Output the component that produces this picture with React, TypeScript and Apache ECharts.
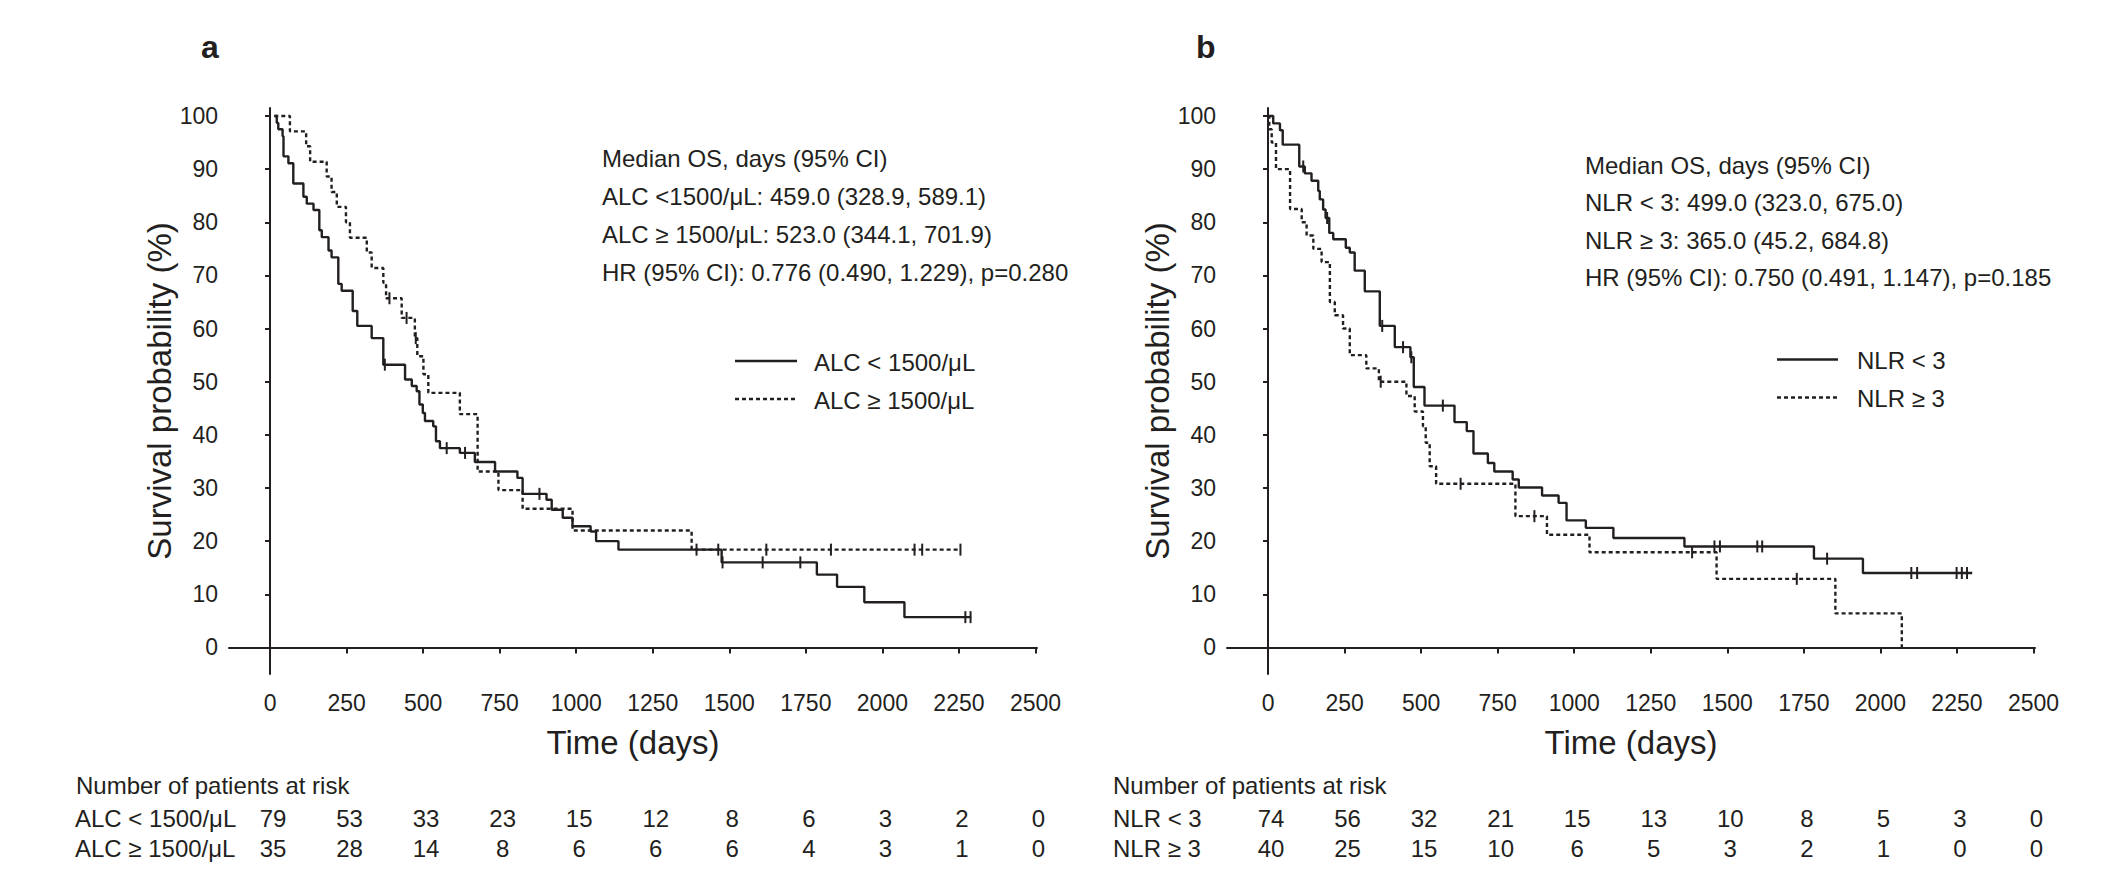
import React, { useEffect, useRef } from 'react';
import * as echarts from 'echarts';

const FONT = "'Liberation Sans', Arial, Helvetica, sans-serif";
const INK = '#231f20';

// ---------- Panel a : ALC ----------
const alcLowTime = [14, 22, 27, 41, 44, 60, 76, 109, 120, 142, 161, 169, 191, 201, 223, 234, 270, 285, 332, 370, 441, 463, 479, 488, 499, 506, 533, 542, 555, 620, 669, 735, 808, 825, 903, 920, 956, 988, 1047, 1065, 1138, 1475, 1786, 1852, 1941, 2072, 2290];
const alcLowSurv = [100, 98.7, 97.5, 96.2, 92.4, 91.1, 87.3, 84.8, 83.5, 82.3, 78.5, 77.2, 74.7, 73.4, 68.4, 67.1, 63.3, 60.5, 58.2, 53.2, 50.4, 49.2, 48.2, 45.7, 44.1, 42.6, 41.6, 38.8, 37.5, 36.6, 34.9, 33.1, 31.9, 28.9, 27.8, 25.9, 24.4, 22.8, 21.8, 20.0, 18.4, 16.0, 13.7, 11.4, 8.5, 5.7, 5.7];
const alcLowCensor = [375, 577, 637, 880, 1464, 1478, 1609, 1732, 2271, 2288];

const alcHighTime = [14, 65, 118, 131, 185, 201, 218, 248, 261, 316, 332, 370, 379, 430, 473, 481, 501, 517, 620, 678, 746, 825, 988, 1377, 2255];
const alcHighSurv = [100, 97.1, 94.3, 91.4, 88.6, 85.7, 82.9, 80.0, 77.1, 74.3, 71.4, 68.6, 65.7, 62.0, 58.2, 54.8, 51.4, 47.9, 43.9, 33.1, 29.6, 26.1, 22.0, 18.4, 18.4];
const alcHighCensor = [390, 446, 476, 1393, 1621, 1832, 2105, 2130, 2255];

// ---------- Panel b : NLR ----------
const nlrLowTime = [0, 17, 39, 48, 102, 120, 142, 164, 169, 180, 188, 200, 213, 254, 267, 283, 316, 365, 414, 465, 476, 511, 609, 649, 671, 718, 739, 799, 819, 895, 949, 975, 1038, 1128, 1360, 1783, 1943, 2300];
const nlrLowSurv = [100, 98.6, 97.3, 94.6, 90.5, 89.2, 87.8, 85.9, 84.3, 82.4, 80.8, 78.0, 76.8, 75.2, 74.3, 70.9, 67.0, 60.5, 56.5, 54.6, 49.0, 45.5, 42.4, 40.7, 36.5, 34.7, 33.1, 31.6, 30.1, 28.6, 27.2, 23.9, 22.5, 20.6, 19.0, 16.7, 14.0, 14.0];
const nlrLowCensor = [115, 193, 373, 441, 468, 571, 1458, 1476, 1598, 1614, 1826, 2101, 2120, 2249, 2266, 2283];

const nlrHighTime = [0, 4, 12, 26, 72, 110, 126, 148, 175, 202, 218, 245, 267, 321, 362, 452, 479, 506, 515, 528, 549, 808, 911, 1050, 1465, 1853, 2070];
const nlrHighSurv = [100, 97.5, 95, 90, 82.5, 80, 77.5, 75, 72.5, 65, 62.5, 60, 55, 52.5, 50, 47.3, 44.4, 41.6, 38.5, 34.1, 30.8, 24.7, 21.2, 17.9, 12.9, 6.4, 0];
const nlrHighCensor = [368, 629, 870, 1385, 1727];

// ---------- axes & risk table ----------
const xTickValues = [0, 250, 500, 750, 1000, 1250, 1500, 1750, 2000, 2250, 2500];
const yTickValues = [0, 10, 20, 30, 40, 50, 60, 70, 80, 90, 100];
const riskTimes = [0, 250, 500, 750, 1000, 1250, 1500, 1750, 2000, 2250, 2500];
const alcLowRisk = [79, 53, 33, 23, 15, 12, 8, 6, 3, 2, 0];
const alcHighRisk = [35, 28, 14, 8, 6, 6, 6, 4, 3, 1, 0];
const nlrLowRisk = [74, 56, 32, 21, 15, 13, 10, 8, 5, 3, 0];
const nlrHighRisk = [40, 25, 15, 10, 6, 5, 3, 2, 1, 0, 0];

const alcLabels = ['ALC < 1500/μL', 'ALC ≥ 1500/μL'];
const nlrLabels = ['NLR < 3', 'NLR ≥ 3'];

const annotationA = [
  'Median OS, days (95% CI)',
  'ALC <1500/μL: 459.0 (328.9, 589.1)',
  'ALC ≥ 1500/μL: 523.0 (344.1, 701.9)',
  'HR (95% CI): 0.776 (0.490, 1.229), p=0.280',
];
const annotationB = [
  'Median OS, days (95% CI)',
  'NLR < 3: 499.0 (323.0, 675.0)',
  'NLR ≥ 3: 365.0 (45.2, 684.8)',
  'HR (95% CI): 0.750 (0.491, 1.147), p=0.185',
];

// ---------- layout ----------
const X_MIN = -134;
const X_MAX = 2505;
const Y_MIN = -5;
const Y_MAX = 101.5;
const PLOT_TOP = 108;
const PLOT_H = 566;
const PLOT_W = 808;
const PANEL_LEFT = [229, 1227];
const RISK_TOP = 803;
const RISK_H = 60;

const toPoints = (t: number[], s: number[]) => t.map((x, i) => [x, s[i]]);
const survAt = (t: number[], s: number[], x: number) => {
  let v = s[0];
  for (let i = 0; i < t.length; i++) if (t[i] <= x) v = s[i];
  return v;
};
const censorPoints = (c: number[], t: number[], s: number[]) => c.map((x) => [x, survAt(t, s, x)]);

function App() {
  const ref = useRef<HTMLDivElement>(null);

  useEffect(() => {
    if (!ref.current) return;
    const chart = echarts.init(ref.current, undefined, { renderer: 'svg' });

    const axisLine = { show: true, lineStyle: { color: INK, width: 2 } };
    const axisTick = { show: true, length: 6, lineStyle: { color: INK, width: 2 } };
    const plain = (v: number) => String(v);

    const plotX = (gi: number) => ({
      type: 'value',
      gridIndex: gi,
      min: X_MIN,
      max: X_MAX,
      name: 'Time (days)',
      nameLocation: 'middle',
      nameGap: 52,
      nameTextStyle: { fontSize: 33, color: INK, fontFamily: FONT },
      axisLine,
      axisTick: { ...axisTick, customValues: xTickValues },
      axisLabel: { customValues: xTickValues, formatter: plain, fontSize: 23, color: INK, fontFamily: FONT, margin: 17 },
      splitLine: { show: false },
    });
    const plotY = (gi: number) => ({
      type: 'value',
      gridIndex: gi,
      min: Y_MIN,
      max: Y_MAX,
      name: 'Survival probability (%)',
      nameLocation: 'middle',
      nameGap: 45,
      nameTextStyle: { fontSize: 33, color: INK, fontFamily: FONT },
      axisLine,
      axisTick: { ...axisTick, length: 5, customValues: yTickValues },
      axisLabel: { customValues: yTickValues, formatter: plain, fontSize: 23, color: INK, fontFamily: FONT, margin: 11 },
      splitLine: { show: false },
    });
    const riskX = (gi: number) => ({
      type: 'value',
      gridIndex: gi,
      min: X_MIN,
      max: X_MAX,
      show: false,
    });
    const riskY = (gi: number, labels: string[], margin: number) => ({
      type: 'category',
      gridIndex: gi,
      data: labels,
      inverse: true,
      axisLine: { show: false },
      axisTick: { show: false },
      splitLine: { show: false },
      axisLabel: { show: true, interval: 0, hideOverlap: false, align: 'left', margin, fontSize: 24, color: INK, fontFamily: FONT },
    });

    const km = (name: string, xi: number, t: number[], s: number[], dashed: boolean) => ({
      name,
      type: 'line',
      xAxisIndex: xi,
      yAxisIndex: xi,
      step: 'end',
      symbol: 'none',
      silent: true,
      data: toPoints(t, s),
      lineStyle: { color: INK, width: 2.4, type: dashed ? [4, 3] : 'solid' },
      z: 3,
    });
    const cens = (name: string, xi: number, c: number[], t: number[], s: number[]) => ({
      name,
      type: 'scatter',
      xAxisIndex: xi,
      yAxisIndex: xi,
      symbol: 'rect',
      symbolSize: [2, 12],
      silent: true,
      itemStyle: { color: INK, opacity: 1 },
      data: censorPoints(c, t, s),
      z: 4,
    });
    const risk = (xi: number, row: string, vals: number[]) => ({
      type: 'scatter',
      xAxisIndex: xi,
      yAxisIndex: xi,
      symbolSize: 0.01,
      silent: true,
      itemStyle: { color: INK, opacity: 1 },
      label: {
        show: true,
        position: 'inside',
        offset: [3, 0],
        formatter: (p: any) => String(p.value[2]),
        fontSize: 24,
        color: INK,
        opacity: 1,
        textBorderWidth: 0,
        fontFamily: FONT,
      },
      data: riskTimes.map((t, i) => [t, row, vals[i]]),
    });

    const txt = (x: number, y: number, text: string, fontSize = 24, fontWeight: any = 'normal') => ({
      type: 'text',
      x,
      y,
      silent: true,
      style: { text, fontSize, fontWeight, fontFamily: FONT, fill: INK, align: 'left', verticalAlign: 'middle' },
    });
    const seg = (x1: number, x2: number, y: number, dashed: boolean) => ({
      type: 'line',
      silent: true,
      shape: { x1, y1: y, x2, y2: y },
      style: { stroke: INK, lineWidth: 2.4, lineDash: dashed ? [4, 3] : null },
    });

    const annYA = [158, 196, 234, 272];
    const annYB = [165, 202.5, 240, 277];

    const graphic: any[] = [
      txt(201, 47, 'a', 32, 'bold'),
      txt(1196, 47, 'b', 32, 'bold'),
      ...annotationA.map((s, i) => txt(602, annYA[i], s)),
      ...annotationB.map((s, i) => txt(1585, annYB[i], s)),
      seg(735, 797, 361, false),
      seg(735, 797, 399, true),
      txt(814, 362, alcLabels[0]),
      txt(814, 400, alcLabels[1]),
      seg(1777, 1838, 359.5, false),
      seg(1777, 1838, 397.5, true),
      txt(1857, 360, nlrLabels[0]),
      txt(1857, 398, nlrLabels[1]),
      txt(76, 785, 'Number of patients at risk'),
      txt(1113, 785, 'Number of patients at risk'),
    ];

    chart.setOption({
      animation: false,
      backgroundColor: '#ffffff',
      textStyle: { fontFamily: FONT, color: INK },
      grid: [
        { left: PANEL_LEFT[0], top: PLOT_TOP, width: PLOT_W, height: PLOT_H },
        { left: PANEL_LEFT[1], top: PLOT_TOP, width: PLOT_W, height: PLOT_H },
        { left: PANEL_LEFT[0], top: RISK_TOP, width: PLOT_W, height: RISK_H },
        { left: PANEL_LEFT[1], top: RISK_TOP, width: PLOT_W, height: RISK_H },
      ],
      xAxis: [plotX(0), plotX(1), riskX(2), riskX(3)],
      yAxis: [
        plotY(0),
        plotY(1),
        riskY(2, alcLabels, PANEL_LEFT[0] - 75),
        riskY(3, nlrLabels, PANEL_LEFT[1] - 1113),
      ],
      series: [
        km(alcLabels[0], 0, alcLowTime, alcLowSurv, false),
        km(alcLabels[1], 0, alcHighTime, alcHighSurv, true),
        cens('alc-low-censor', 0, alcLowCensor, alcLowTime, alcLowSurv),
        cens('alc-high-censor', 0, alcHighCensor, alcHighTime, alcHighSurv),
        km(nlrLabels[0], 1, nlrLowTime, nlrLowSurv, false),
        km(nlrLabels[1], 1, nlrHighTime, nlrHighSurv, true),
        cens('nlr-low-censor', 1, nlrLowCensor, nlrLowTime, nlrLowSurv),
        cens('nlr-high-censor', 1, nlrHighCensor, nlrHighTime, nlrHighSurv),
        risk(2, alcLabels[0], alcLowRisk),
        risk(2, alcLabels[1], alcHighRisk),
        risk(3, nlrLabels[0], nlrLowRisk),
        risk(3, nlrLabels[1], nlrHighRisk),
      ],
      graphic,
    });

    return () => chart.dispose();
  }, []);

  return (
    <div
      ref={ref}
      style={{ position: 'fixed', left: 0, top: 0, width: 2127, height: 891, background: '#ffffff' }}
    />
  );
}

export default App;
